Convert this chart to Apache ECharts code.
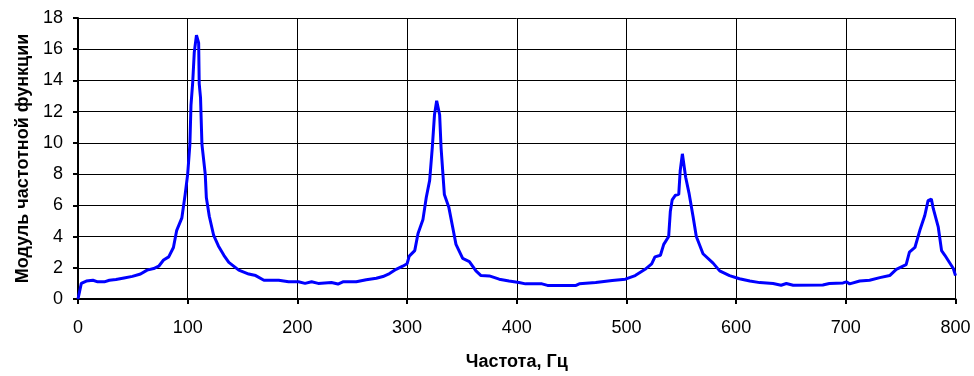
<!DOCTYPE html>
<html>
<head>
<meta charset="utf-8">
<script src="https://cdn.jsdelivr.net/npm/echarts@6/dist/echarts.min.js"></script>
<style>
  html, body { margin: 0; padding: 0; background: #fff; }
  #chart { width: 974px; height: 376px; }
</style>
</head>
<body>
<div id="chart"></div>
<script>
// частота, Гц
const freq = [
  0, 3, 7.6, 13.6, 18, 24, 28.6, 34.6, 42, 49.6, 57, 63, 69, 73.6, 78, 82.7, 87, 90, 94.7, 97.7,
  100, 102, 103, 104.6, 106, 108, 110, 110.5, 111.7, 113, 116, 117, 119.7, 123.7, 128, 133, 137.5,
  146.6, 155.7, 162, 169.5, 183, 192, 201, 207, 213, 219, 231, 237, 241.5, 253.7, 262.8, 272, 278,
  284, 290, 296, 300, 302, 307, 310, 314.5, 317.5, 320.6, 323, 325, 327, 329.7, 331, 334, 338,
  341.6, 344.6, 350.7, 356.8, 362.8, 367.4, 375, 384, 393, 402, 408, 423, 428, 454, 457, 472, 487,
  499, 508, 517, 523, 526, 531, 534, 538.5, 540, 541.7, 544.7, 547.7, 549, 551, 552.5, 554, 557,
  560.7, 563.7, 569.8, 579, 585, 594, 603, 612.5, 621.6, 633.7, 641, 645.8, 652, 679, 685, 697.5,
  700.5, 703.5, 712.6, 721.7, 731, 740, 746, 755, 758, 763, 767.5, 772, 775, 778, 779.7, 784.3,
  787.3, 790.3, 798, 800
]
// модуль частотной функции
const amp = [
  0, 1.0, 1.15, 1.2, 1.1, 1.1, 1.2, 1.25, 1.35, 1.45, 1.6, 1.85, 1.95, 2.1, 2.5, 2.7, 3.3, 4.4, 5.2, 6.7,
  8.0, 9.9, 12.4, 13.9, 15.8, 16.9, 16.4, 13.8, 12.9, 9.9, 8.0, 6.5, 5.3, 4.07, 3.4, 2.8, 2.35,
  1.85, 1.6, 1.5, 1.2, 1.2, 1.1, 1.1, 1.0, 1.1, 1.0, 1.06, 0.96, 1.1, 1.1, 1.23, 1.33, 1.44,
  1.63, 1.9, 2.1, 2.26, 2.75, 3.1, 4.2, 5.1, 6.5, 7.6, 9.7, 11.8, 12.7, 11.8, 9.7, 6.7, 5.9,
  4.6, 3.5, 2.6, 2.4, 1.8, 1.5, 1.48, 1.27, 1.15, 1.06, 0.97, 0.97, 0.87, 0.87, 0.97, 1.06, 1.18,
  1.27, 1.5, 1.9, 2.25, 2.7, 2.8, 3.5, 4.0, 5.6, 6.35, 6.65, 6.7, 8.2, 9.3, 9.3, 7.8, 6.8,
  5.3, 4.0, 2.9, 2.3, 1.8, 1.5, 1.3, 1.15, 1.05, 0.99, 0.88, 0.99, 0.88, 0.9, 0.99, 1.03,
  1.1, 0.97, 1.15, 1.2, 1.37, 1.5, 1.9, 2.2, 3.0, 3.3, 4.4, 5.35, 6.3, 6.4, 5.8, 4.6,
  3.1, 2.8, 1.95, 1.5
]
const xTicks = { min: 0, max: 800, step: 100 }
const yTicks = { min: 0, max: 18, step: 2 }

const chart = echarts.init(document.getElementById('chart'))
const font = '"Liberation Sans", Arial, sans-serif'

const option = {
  animation: false,
  grid: { left: 78, right: 18.5, top: 18, bottom: 75 },
  xAxis: {
    type: 'value',
    min: xTicks.min,
    max: xTicks.max,
    interval: xTicks.step,
    name: 'Частота, Гц',
    nameLocation: 'middle',
    nameGap: 54,
    nameTextStyle: { fontFamily: font, fontSize: 18, fontWeight: 'bold', color: '#000' },
    axisLine: { lineStyle: { color: '#000', width: 2 } },
    axisTick: { show: true, length: 5, lineStyle: { color: '#000', width: 2 } },
    axisLabel: { fontFamily: font, fontSize: 18, color: '#000', margin: 20 },
    splitLine: { show: true, lineStyle: { color: '#000', width: 1 } }
  },
  yAxis: {
    type: 'value',
    min: yTicks.min,
    max: yTicks.max,
    interval: yTicks.step,
    name: 'Модуль частотной функции',
    nameLocation: 'middle',
    nameGap: 46,
    nameTextStyle: { fontFamily: font, fontSize: 18, fontWeight: 'bold', color: '#000' },
    axisLine: { show: true, lineStyle: { color: '#000', width: 2 } },
    axisTick: { show: true, length: 5, lineStyle: { color: '#000', width: 2 } },
    axisLabel: { fontFamily: font, fontSize: 18, color: '#000', margin: 15 },
    splitLine: { show: true, lineStyle: { color: '#000', width: 1 } }
  },
  series: [
    {
      type: 'line',
      data: freq.map((f, i) => [f, amp[i]]),
      showSymbol: false,
      lineStyle: { color: '#0000ff', width: 3 },
      itemStyle: { color: '#0000ff' }
    }
  ]
}
chart.setOption(option)
</script>
</body>
</html>
